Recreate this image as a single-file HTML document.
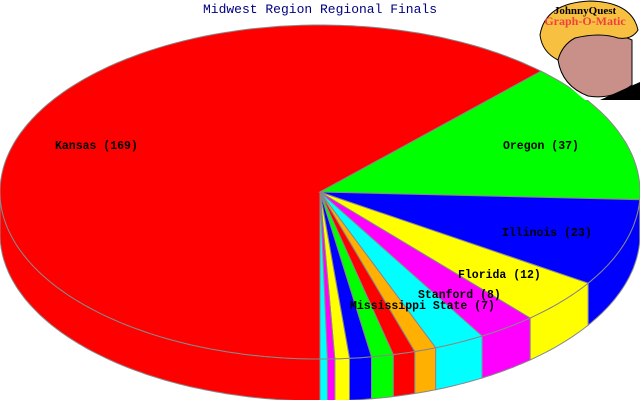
<!DOCTYPE html>
<html><head><meta charset="utf-8">
<style>
html,body{margin:0;padding:0;background:#fff;}
svg{display:block;}
</style></head>
<body>
<svg id="chart" width="640" height="400" viewBox="0 0 640 400">
<text x="320" y="13" text-anchor="middle" font-family="Liberation Mono, monospace" font-size="13" fill="#000080">Midwest Region Regional Finals</text>
<g id="pie"></g>
<g id="labels"></g>
<g>
  <path d="M540 0 L640 0 L640 100 L585 100 Q560 80 545 60 Z" fill="#fff"/>
  <path d="M558 35 Q600 25 632 40 L632 85 Q612 100 588 96 Q562 86 558 60 Z" fill="#c89088" stroke="#000" stroke-width="1"/>
  <path d="M540 35 Q545 3 590 1 Q632 2 638 30 Q632 40 618 38 Q600 32 575 38 Q562 45 558 60 Q542 52 540 35 Z" fill="#f8c040" stroke="#000" stroke-width="1"/>
  <path d="M600 100 L640 82 L640 100 Z" fill="#000"/>
  <text x="585" y="14" text-anchor="middle" font-family="Liberation Serif, serif" font-weight="bold" font-size="11" fill="#000">JohnnyQuest</text>
  <text x="585" y="25" text-anchor="middle" font-family="Liberation Serif, serif" font-weight="bold" font-size="12" fill="#f04040">Graph-O-Matic</text>
</g>
</svg>
<script>
const categories = ["Kansas","Oregon","Illinois","Florida","Stanford","Mississippi State","Team 7","Team 8","Team 9","Team 10","Team 11","Team 12","Team 13"];
const values = [169,37,23,12,8,7,3,3,3,3,2,1,1];
const colors = ["#ff0000","#00ff00","#0000ff","#ffff00","#ff00ff","#00ffff","#ffb000","#ff0000","#00ff00","#0000ff","#ffff00","#ff00ff","#00ffff"];
const labelled = [true,true,true,true,true,true,false,false,false,false,false,false,false];

const NS="http://www.w3.org/2000/svg";
const cx=320, cy=192, rx=320, ry=167, depth=42, startDeg=90;
const pie=document.getElementById('pie'), lab=document.getElementById('labels');
const total=values.reduce((a,b)=>a+b,0);
function pt(t,dy){const r=t*Math.PI/180;return [cx+rx*Math.cos(r), cy+ry*Math.sin(r)+(dy||0)];}
function arcPts(a,b,dy){const p=[];const n=Math.max(2,Math.ceil(Math.abs(b-a)));for(let i=0;i<=n;i++)p.push(pt(a+(b-a)*i/n,dy));return p;}
function poly(points,fill,name){const e=document.createElementNS(NS,'polygon');
e.setAttribute('points',points.map(p=>p[0].toFixed(1)+','+p[1].toFixed(1)).join(' '));
e.setAttribute('fill',fill);e.setAttribute('stroke','#888');e.setAttribute('stroke-width','1');


pie.appendChild(e);}
const slices=[];let a=startDeg;
values.forEach((v,i)=>{const s=a,e=a+v/total*360;slices.push([s,e]);a=e;});
slices.forEach(([s,e],i)=>{
  for(const off of [0,360]){
    const lo=Math.max(s,off), hi=Math.min(e,off+180);
    if(hi>lo){const top=arcPts(lo,hi,0), bot=arcPts(hi,lo,depth);
      poly(top.concat(bot),colors[i],'slice-side-'+i);}
  }
});
slices.forEach(([s,e],i)=>{poly([[cx,cy]].concat(arcPts(s,e,0)),colors[i],'slice-'+categories[i].toLowerCase().replace(/\s+/g,'-'));});
const labelPos=[[55,149],[503,149],[502,236],[458,278],[418,298],[350,309]];
categories.forEach((c,i)=>{if(!labelled[i])return;
  const t=document.createElementNS(NS,'text');
  t.setAttribute('x',labelPos[i][0]);t.setAttribute('y',labelPos[i][1]);
  t.setAttribute('font-family','Liberation Mono, monospace');t.setAttribute('font-size','11.5');t.setAttribute('font-weight','bold');
  t.textContent=c+' ('+values[i]+')';
  
  
  lab.appendChild(t);});
</script>
</body></html>
